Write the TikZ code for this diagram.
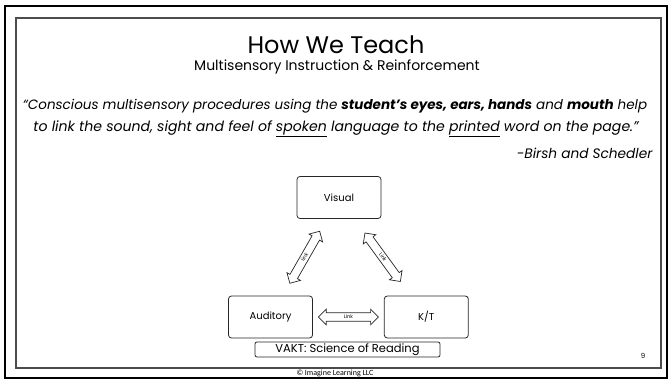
\documentclass[tikz,border=0pt]{standalone}
\usepackage{fontspec}
\setmainfont{Poppins}
\newfontfamily\footfont{Carlito}
\usetikzlibrary{shapes.arrows, positioning, calc}
\tikzset{
  sense/.style={rectangle, draw=black!85, rounded corners=3pt,
                minimum width=84pt, minimum height=42pt,
                line width=0.8pt, font=\fontsize{10}{12}\selectfont},
  linkarr/.style={double arrow, draw=black!85, line width=0.7pt,
                  minimum height=60pt, minimum width=15pt,
                  double arrow head extend=3.5pt,
                  inner xsep=2pt, inner ysep=2.2pt,
                  text height=3.2pt, text depth=0.3pt,
                  font=\fontsize{5}{5}\selectfont},
  banner/.style={rectangle, draw=black!85, rounded corners=2pt,
                 minimum width=185pt, minimum height=15pt, inner sep=0pt,
                 line width=0.8pt, font=\fontsize{11.5}{13}\selectfont},
}

\begin{document}
\begin{tikzpicture}[x=1pt, y=-1pt, node distance=4pt and 71pt]
  \useasboundingbox (0,0) rectangle (670,380);
  % frames
  \draw[line width=1.8pt, black] (5,6) rectangle (667,378);
  \draw[line width=1.2pt, black!70] (16,18) rectangle (661,368);

  % heading and quote
  \node[font=\fontsize{24}{28}\selectfont] (title) at (336,45) {How We Teach};
  \node[font=\fontsize{14}{17}\selectfont] (subtitle) at (337,67)
    {Multisensory Instruction \& Reinforcement};
  \node[font=\fontsize{13.5}{16}\selectfont\itshape] (quote1) at (335,106)
    {“Conscious multisensory procedures using the \textbf{student’s eyes, ears, hands} and \textbf{mouth} help};
  \node[font=\fontsize{14.1}{16}\selectfont\itshape] (quote2) at (336,129)
    {to link the sound, sight and feel of \underline{spoken} language to the \underline{printed} word on the page.”};
  \node[font=\fontsize{13.7}{16}\selectfont\itshape, anchor=east] (source) at (656,153)
    {-Birsh and Schedler};

  % senses
  \node[sense] (vis) at (339,197.5) {Visual};
  \node[sense] (aud) at (270.5,317) {Auditory};
  \node[sense, right=of aud] (kt) {K/T};
  \node[banner] (vakt) at (347.5,349.5) {VAKT: Science of Reading};

  % links
  \path (aud) -- node[linkarr, sloped] {Link} (vis);
  \path (vis) -- node[linkarr, sloped] {Link} (kt);
  \path (aud) -- node[linkarr] {Link} (kt);

  \node[font=\fontsize{7}{8}\selectfont] (page) at (643,356) {9};
  \node[font=\footfont\fontsize{8}{9}\selectfont] (footer) at (335,373.5)
    {© Imagine Learning LLC};
\end{tikzpicture}
\end{document}
